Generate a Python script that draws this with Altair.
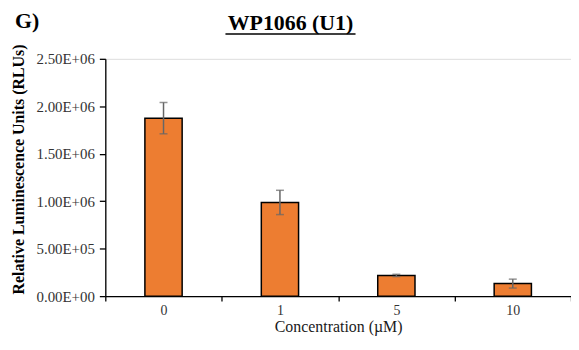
import altair as alt
import pandas as pd

# ---- data ----
concentrations = ["0", "1", "5", "10"]
means = [1.875e6, 0.987e6, 0.218e6, 0.132e6]
errors = [0.165e6, 0.128e6, 0.012e6, 0.047e6]
y_ticks = [0, 5e5, 1e6, 1.5e6, 2e6, 2.5e6]
chart_title = "WP1066 (U1)"
panel_label = "G)"
x_title = "Concentration (µM)"
y_title = "Relative Luminescence Units (RLUs)"

df = pd.DataFrame({"conc": concentrations, "mean": means, "err": errors})
df["lo"] = df["mean"] - df["err"]
df["hi"] = df["mean"] + df["err"]

FONT = "Liberation Serif"

x_enc = alt.X(
    "conc:N",
    sort=concentrations,
    scale=alt.Scale(paddingInner=0, paddingOuter=0),
    axis=alt.Axis(
        title=x_title,
        labelAngle=0,
        tickBand="extent",
        tickSize=5,
        tickColor="#000000",
        tickWidth=1.3,
        domainColor="#000000",
        domainWidth=1.3,
        labelFont=FONT,
        labelFontSize=14,
        labelColor="#333333",
        labelPadding=2,
        titleFont=FONT,
        titleFontSize=16,
        titleFontWeight="normal",
        titleColor="#1a1a1a",
        titleBaseline="alphabetic",
        titleY=36,
        grid=False,
    ),
)

y_scale = alt.Scale(domain=[0, 2.5e6], nice=False)
label_expr = (
    "datum.value == 0 ? '0.00E+00' : (datum.value < 1000000 ? "
    "format(datum.value/100000, '.2f') + 'E+05' : "
    "format(datum.value/1000000, '.2f') + 'E+06')"
)
y_enc = alt.Y(
    "mean:Q",
    scale=y_scale,
    axis=alt.Axis(
        title=y_title,
        values=y_ticks,
        labelExpr=label_expr,
        tickSize=6,
        tickColor="#000000",
        tickWidth=1.3,
        domainColor="#000000",
        domainWidth=1.3,
        labelFont=FONT,
        labelFontSize=15,
        labelColor="#333333",
        labelPadding=5,
        titleFont=FONT,
        titleFontSize=16,
        titleFontWeight="bold",
        titleColor="#000000",
        titleAngle=-90,
        titleBaseline="alphabetic",
        titleX=-82,
        titleY=111,
        grid=False,
    ),
)

base = alt.Chart(df)

bars = base.mark_bar(
    fill="#ED7D31", stroke="#000000", strokeWidth=1.5, width={"band": 0.32}
).encode(x=x_enc, y=y_enc)

err_rule = base.mark_rule(color="#666666", strokeWidth=1.5).encode(
    x=alt.X("conc:N", sort=concentrations),
    y=alt.Y("lo:Q", scale=y_scale),
    y2="hi:Q",
)
cap_hi = base.mark_tick(color="#666666", thickness=1.5, size=8).encode(
    x=alt.X("conc:N", sort=concentrations),
    y=alt.Y("hi:Q", scale=y_scale),
)
cap_lo = base.mark_tick(color="#666666", thickness=1.5, size=8).encode(
    x=alt.X("conc:N", sort=concentrations),
    y=alt.Y("lo:Q", scale=y_scale),
)

title_df = alt.Data(values=[{"t": chart_title}])
label_df = alt.Data(values=[{"t": panel_label}])

title_text = alt.Chart(title_df).mark_text(
    font=FONT, fontSize=22, fontWeight="bold", color="#000000",
    align="center", baseline="alphabetic",
).encode(x=alt.value(186.5), y=alt.value(-29), text="t:N")

underline = alt.Chart(title_df).mark_rule(color="#000000", strokeWidth=1.6).encode(
    x=alt.value(121), x2=alt.value(252), y=alt.value(-25)
)

panel_text = alt.Chart(label_df).mark_text(
    font=FONT, fontSize=22, fontWeight="bold", color="#000000",
    align="left", baseline="alphabetic",
).encode(x=alt.value(-91), y=alt.value(-31), text="t:N")

chart = (
    alt.layer(bars, err_rule, cap_hi, cap_lo, title_text, underline, panel_text)
    .properties(
        width=469,
        height=239,
        autosize=alt.AutoSizeParams(type="none"),
        padding={"left": 98, "top": 50, "right": 0, "bottom": 44},
    )
    .configure_view(stroke=None)
    .configure(background="#ffffff", font=FONT)
)

chart.save("out.html", embed_options={"renderer": "svg", "actions": False})
